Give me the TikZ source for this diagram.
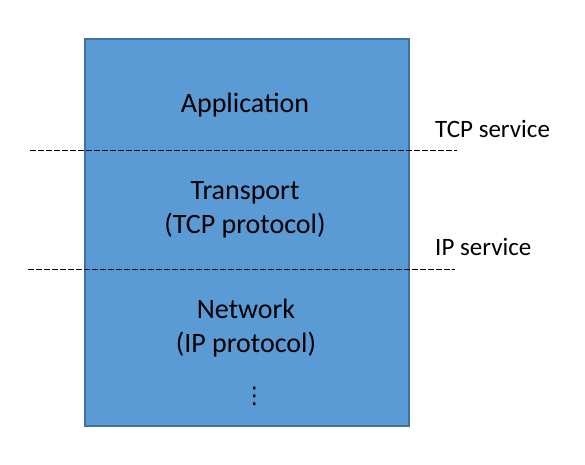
\documentclass[tikz,border=0pt]{standalone}
\usepackage{fontspec}
\setmainfont{Carlito}
\newfontfamily\symfont{DejaVu Sans}
\begin{document}
\begin{tikzpicture}[x=1pt,y=-1pt,
  layerbox/.style={draw=boxborder,fill=boxfill,line width=1.8pt},
  sepline/.style={draw=black,line width=1pt,dash pattern=on 5.5pt off 2.5pt},
  boxtext/.style={font=\fontsize{28}{34}\selectfont,anchor=base,inner sep=0pt},
  sidetext/.style={font=\fontsize{25}{30}\selectfont,anchor=base west,inner sep=0pt}]
\definecolor{boxfill}{HTML}{5B9BD5}
\definecolor{boxborder}{HTML}{41719C}
\useasboundingbox (0,0) rectangle (585,464);
\node[layerbox,minimum width=324pt,minimum height=387pt,anchor=north west,inner sep=0pt] (stack) at (84,38) {};
\coordinate (l1a) at (30,150);
\coordinate (l1b) at (457,150);
\coordinate (l2a) at (28,269);
\coordinate (l2b) at (455,269);
\draw[sepline] (l1a) -- (l1b);
\draw[sepline] (l2a) -- (l2b);
\node[boxtext] (app) at (245,112) {Application};
\node[boxtext] (trans) at (245,199.5) {Transport};
\node[boxtext] (transsub) at (245,233.5) {(TCP protocol)};
\node[boxtext] (net) at (246,318.5) {Network};
\node[boxtext] (netsub) at (246,352.5) {(IP protocol)};
\node[inner sep=0pt,anchor=center,font=\symfont\fontsize{23}{26}\selectfont] (dots) at (254.3,396) {⋮};
\node[sidetext] (tcps) at (435,137.5) {TCP service};
\node[sidetext] (ips) at (435,255.5) {IP service};
\end{tikzpicture}
\end{document}
